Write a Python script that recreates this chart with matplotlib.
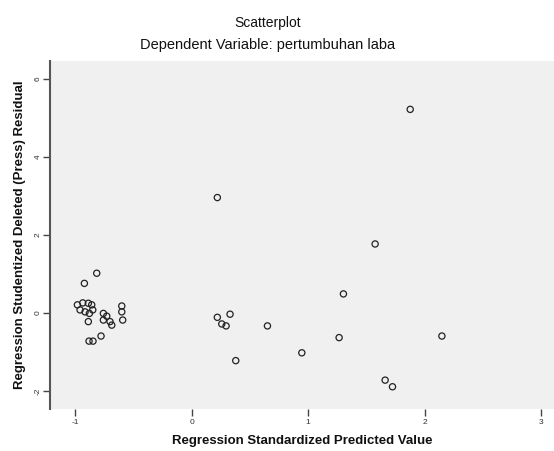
import matplotlib.pyplot as plt

# standardized predicted value vs studentized deleted residual
pred = [-0.814, -0.920, -0.980, -0.934, -0.886, -0.857, -0.957, -0.914, -0.848,
        -0.877, -0.886, -0.757, -0.728, -0.757, -0.700, -0.685, -0.599, -0.599,
        -0.591, -0.777, -0.880, -0.846,
        0.221, 0.221, 0.330, 0.259, 0.296, 0.651, 0.379,
        1.303, 1.266, 0.946, 1.876, 1.575, 2.148, 1.661, 1.724]
resid = [1.02, 0.76, 0.21, 0.26, 0.25, 0.21, 0.08, 0.03, 0.08,
         -0.01, -0.22, -0.01, -0.08, -0.18, -0.22, -0.31, 0.18, 0.03,
         -0.18, -0.59, -0.72, -0.72,
         2.96, -0.11, -0.03, -0.28, -0.33, -0.33, -1.22,
         0.49, -0.63, -1.02, 5.22, 1.77, -0.59, -1.72, -1.89]
xticks = [-1, 0, 1, 2, 3]
yticks = [-2, 0, 2, 4, 6]

plt.rcParams['font.family'] = 'Liberation Sans'

fig = plt.figure(figsize=(5.54, 4.51), dpi=100)
ax = fig.add_axes([50 / 554, 1 - 409 / 451, 504 / 554, 348 / 451])
ax.set_facecolor('#f0f0f0')

ax.scatter(pred, resid, s=20, facecolors='none', edgecolors='#222222', linewidths=0.9)

ax.set_xlim(-1.215, 3.11)
ax.set_ylim(-2.46, 6.46)
ax.set_xticks(xticks)
ax.set_yticks(yticks)
ax.set_xticklabels([str(v) for v in xticks], fontsize=6, color='#333333')
ax.set_yticklabels([str(v) for v in yticks], fontsize=6, color='#333333',
                   rotation=90, va='center')

for side in ['top', 'right', 'bottom']:
    ax.spines[side].set_visible(False)
ax.spines['left'].set_color('#555555')
ax.spines['left'].set_linewidth(1.5)
ax.tick_params(axis='y', direction='out', length=5, width=1, color='#444444', pad=1)
ax.tick_params(axis='x', direction='out', length=5, width=1, color='#444444', pad=2)

ax.set_xlabel('Regression Standardized Predicted Value', fontsize=9.5, fontweight='bold',
              color='#111111', labelpad=7)
ax.set_ylabel('Regression Studentized Deleted (Press) Residual', fontsize=9.5,
              fontweight='bold', color='#111111', labelpad=6)

fig.text(268 / 554, 1 - 23 / 451, 'Scatterplot', ha='center', va='center',
         fontsize=10, color='#111111')
fig.text(268 / 554, 1 - 45 / 451, 'Dependent Variable: pertumbuhan laba',
         ha='center', va='center', fontsize=10.5, color='#111111')

fig.savefig('out.png', dpi=100)
